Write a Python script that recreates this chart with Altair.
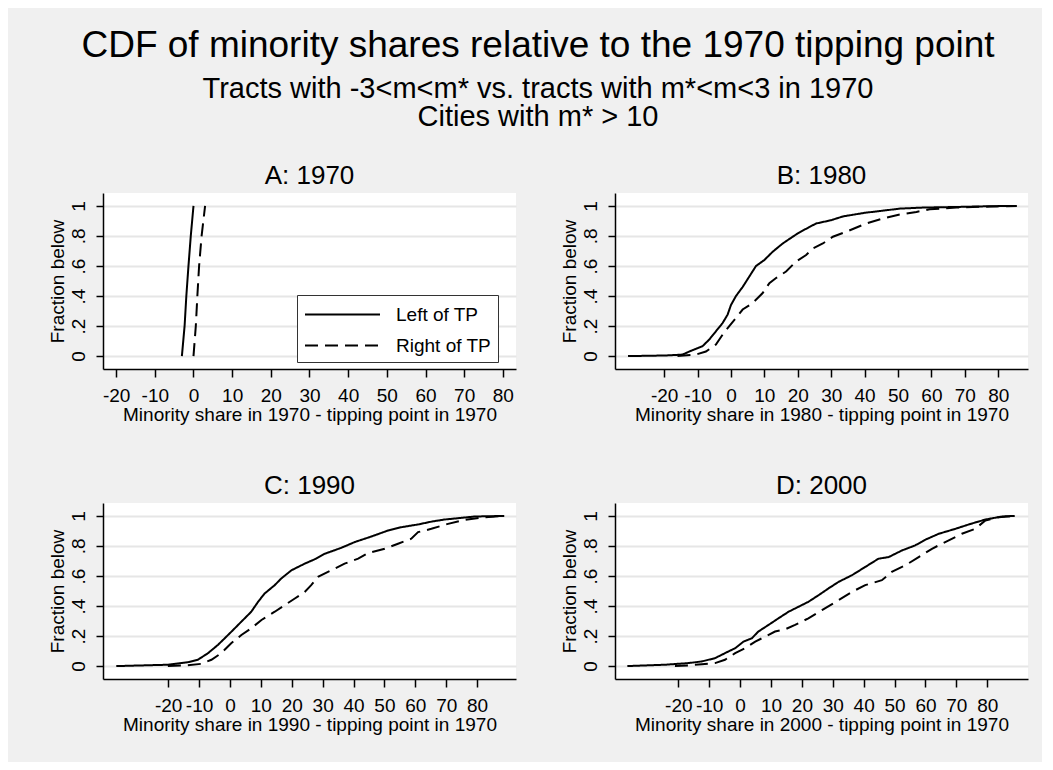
import altair as alt
import pandas as pd

FONT = "Liberation Sans"

# ---------------- data ----------------
A_LEFT_X = [-3.0, -2.3, -1.85, -1.3, -0.7, 0.0]
A_LEFT_Y = [0.0, 0.2, 0.4, 0.6, 0.8, 1.0]
A_RIGHT_X = [0.0, 0.6, 1.0, 1.45, 2.1, 3.0]
A_RIGHT_Y = [0.0, 0.2, 0.4, 0.6, 0.8, 1.0]

B_LEFT_X = [-30.8, -19.5, -14.5, -12.5, -8.5, -6.5, -4.5, -2.5, -1.0, 0.0, 1.5, 3.5, 5.5, 7.5,
            10.0, 12.5, 15.5, 17.5, 20.0, 23.5, 25.5, 30.0, 33.5, 40.0, 45.0, 50.5, 57.5, 67.5,
            77.5, 85.5]
B_LEFT_Y = [0.0, 0.004, 0.01, 0.03, 0.066, 0.11, 0.165, 0.22, 0.276, 0.34, 0.40, 0.46, 0.53, 0.60,
            0.64, 0.695, 0.75, 0.78, 0.817, 0.86, 0.883, 0.905, 0.93, 0.954, 0.967, 0.982, 0.989,
            0.993, 0.998, 1.0]
B_RIGHT_X = [-16.0, -10.5, -7.5, -4.5, -2.5, -0.5, 1.5, 3.5, 6.5, 9.5, 11.5, 13.5, 16.5, 19.5,
             22.5, 24.5, 27.5, 30.5, 34.5, 40.5, 45.5, 50.5, 55.5, 59.5, 67.5, 77.5, 85.5]
B_RIGHT_Y = [0.0, 0.01, 0.03, 0.077, 0.143, 0.2, 0.254, 0.31, 0.353, 0.42, 0.486, 0.52, 0.563,
             0.63, 0.673, 0.717, 0.75, 0.795, 0.828, 0.883, 0.916, 0.943, 0.96, 0.978, 0.989,
             0.996, 1.0]

C_LEFT_X = [-36.8, -20.1, -13.6, -10.4, -7.1, -3.9, -1.7, 1.0, 3.7, 6.9, 9.1, 11.2, 14.5, 16.6,
            19.9, 24.2, 27.4, 30.7, 36.1, 40.4, 45.8, 51.2, 55.5, 60.9, 65.2, 69.5, 74.9, 79.3,
            88.8]
C_LEFT_Y = [0.0, 0.009, 0.026, 0.042, 0.086, 0.141, 0.185, 0.24, 0.296, 0.362, 0.428, 0.483,
            0.539, 0.583, 0.638, 0.682, 0.711, 0.748, 0.788, 0.826, 0.863, 0.903, 0.925, 0.943,
            0.962, 0.976, 0.987, 0.996, 1.0]
C_RIGHT_X = [-20.1, -14.7, -9.3, -6.0, -2.8, 0.4, 3.7, 6.9, 10.2, 14.5, 17.7, 21.0, 24.2, 26.3,
             28.5, 32.8, 37.1, 41.5, 44.7, 50.1, 54.4, 58.7, 60.9, 65.2, 70.6, 76.0, 82.5, 88.8]
C_RIGHT_Y = [0.0, 0.004, 0.015, 0.042, 0.086, 0.152, 0.207, 0.252, 0.307, 0.362, 0.406, 0.45,
             0.494, 0.539, 0.594, 0.638, 0.682, 0.715, 0.753, 0.781, 0.815, 0.848, 0.892, 0.914,
             0.947, 0.974, 0.991, 1.0]

D_LEFT_X = [-36.5, -24.3, -16.7, -12.4, -8.1, -4.9, -1.6, 1.1, 3.8, 5.9, 9.2, 12.4, 15.7, 18.9,
            22.1, 25.4, 28.6, 31.9, 36.2, 40.5, 44.8, 48.1, 52.4, 56.7, 59.9, 64.3, 69.7, 74.0,
            79.4, 84.8, 88.9]
D_LEFT_Y = [0.0, 0.009, 0.02, 0.031, 0.053, 0.086, 0.119, 0.163, 0.185, 0.23, 0.274, 0.318,
            0.362, 0.395, 0.428, 0.472, 0.517, 0.561, 0.605, 0.66, 0.715, 0.726, 0.77, 0.804,
            0.841, 0.881, 0.914, 0.943, 0.976, 0.996, 1.0]
D_RIGHT_X = [-21.1, -16.7, -12.4, -8.1, -4.9, -1.6, 1.6, 4.9, 8.1, 11.3, 14.6, 17.8, 22.1, 26.5,
             31.9, 36.2, 40.5, 45.9, 49.1, 53.5, 57.8, 62.1, 66.4, 71.8, 76.1, 79.4, 83.7, 88.9]
D_RIGHT_Y = [0.0, 0.004, 0.013, 0.02, 0.042, 0.086, 0.119, 0.163, 0.196, 0.23, 0.245, 0.274,
             0.318, 0.373, 0.439, 0.494, 0.539, 0.572, 0.627, 0.671, 0.726, 0.781, 0.826, 0.881,
             0.914, 0.97, 0.991, 1.0]

SERIES = ["Left of TP", "Right of TP"]
X_TICKS = [-20, -10, 0, 10, 20, 30, 40, 50, 60, 70, 80]
Y_TICKS = [0, 0.2, 0.4, 0.6, 0.8, 1.0]

PANELS = [
    ("A: 1970", "1970", [-23.4, 83.4], (A_LEFT_X, A_LEFT_Y), (A_RIGHT_X, A_RIGHT_Y)),
    ("B: 1980", "1980", [-34.7, 88.9], (B_LEFT_X, B_LEFT_Y), (B_RIGHT_X, B_RIGHT_Y)),
    ("C: 1990", "1990", [-41.1, 92.6], (C_LEFT_X, C_LEFT_Y), (C_RIGHT_X, C_RIGHT_Y)),
    ("D: 2000", "2000", [-40.5, 93.2], (D_LEFT_X, D_LEFT_Y), (D_RIGHT_X, D_RIGHT_Y)),
]


def frame(left, right):
    rows = []
    for name, (xs, ys) in zip(SERIES, [left, right]):
        for i, (x, y) in enumerate(zip(xs, ys)):
            rows.append({"series": name, "x": x, "y": y, "i": i})
    return pd.DataFrame(rows)


def panel(title, year, xdom, left, right, show_legend):
    df = frame(left, right)
    if show_legend:
        legend = alt.Legend(
            title=None, orient="none", legendX=194, legendY=102,
            symbolType="M-3,0H3", symbolSize=625, symbolStrokeWidth=2,
            symbolStrokeColor="black", symbolFillColor="transparent", symbolOffset=26,
            labelFont=FONT, labelFontSize=19,
            labelColor="black", labelOffset=40, padding=6, rowPadding=7,
            fillColor="white", strokeColor="#333333", labelLimit=300,
        )
    else:
        legend = None
    return alt.Chart(df).mark_line(color="black", strokeWidth=2).encode(
        x=alt.X("x:Q", scale=alt.Scale(domain=xdom, nice=False, zero=False),
                axis=alt.Axis(values=X_TICKS, labelExpr="datum.value + ''",
                              title=f"Minority share in {year} - tipping point in 1970")),
        y=alt.Y("y:Q", scale=alt.Scale(domain=[-0.086, 1.086], nice=False, zero=False),
                axis=alt.Axis(values=Y_TICKS, title="Fraction below",
                              labelExpr="datum.value == 0 ? '0' : datum.value >= 1 ? '1' : '.' + format(datum.value * 10, 'd')")),
        strokeDash=alt.StrokeDash("series:N", scale=alt.Scale(domain=SERIES, range=[[1, 0], [13, 7]]),
                                  legend=legend),
        order="i:Q",
    ).properties(
        width=413, height=176,
        title=alt.TitleParams(title, fontSize=26, font=FONT, fontWeight="normal", color="black",
                              anchor="middle", baseline="alphabetic", offset=-17),
    )


charts = [panel(t, yr, xd, l, r, k == 0) for k, (t, yr, xd, l, r) in enumerate(PANELS)]

row1 = alt.hconcat(charts[0], charts[1], spacing=44).resolve_scale(
    x="independent", y="independent", strokeDash="independent").resolve_legend(strokeDash="independent")
row2 = alt.hconcat(charts[2], charts[3], spacing=44).resolve_scale(
    x="independent", y="independent", strokeDash="independent").resolve_legend(strokeDash="independent")

chart = alt.vconcat(row1, row2, spacing=49).resolve_scale(
    x="independent", y="independent", strokeDash="independent"
).resolve_legend(strokeDash="independent").properties(
    title=alt.TitleParams(
        "CDF of minority shares relative to the 1970 tipping point",
        subtitle=["Tracts with -3<m<m* vs. tracts with m*<m<3 in 1970", "Cities with m* > 10"],
        fontSize=37, font=FONT, fontWeight="normal", color="black",
        subtitleFontSize=29, subtitleFont=FONT, subtitleColor="black",
        subtitleFontWeight="normal", subtitleLineHeight=28, subtitlePadding=10,
        anchor="middle", offset=30,
    ),
    padding={"left": 40, "right": 14, "top": 19, "bottom": 28},
    background="#F0F0F0",
).configure_view(
    fill="white", strokeWidth=0
).configure_axis(
    labelFont=FONT, labelFontSize=19, labelColor="black",
    titleFont=FONT, titleFontSize=19, titleFontWeight="normal", titleColor="black",
    domainColor="black", domainWidth=1.5, tickColor="black", tickWidth=1.5,
    labelOverlap=False, labelFlush=False,
).configure_axisX(
    grid=False, tickSize=8, labelPadding=9, titlePadding=0,
).configure_axisY(
    grid=True, gridColor="#E6E6E6", gridWidth=2, tickSize=7,
    labelAngle=270, labelAlign="center", labelBaseline="alphabetic", labelPadding=12,
    titlePadding=2,
)

chart.save("out.html", embed_options={"renderer": "svg", "actions": False})
